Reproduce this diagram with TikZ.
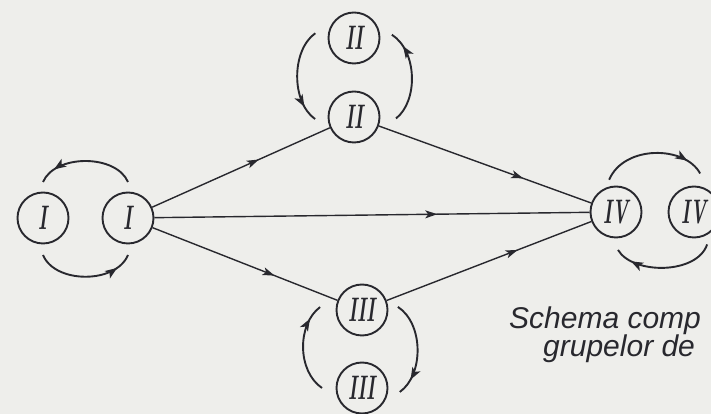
\documentclass[tikz,border=0pt]{standalone}
\usepackage{fontspec}
\usepackage{graphicx}
\setsansfont{Liberation Sans}
\usetikzlibrary{arrows.meta,decorations.markings,calc}
\definecolor{bg}{RGB}{238,238,235}
\definecolor{ink}{RGB}{40,40,46}
\tikzset{
  grp/.style={circle, draw=ink, line width=1.9pt, minimum size=51pt, inner sep=0pt,
    font=\fontsize{34}{34}\selectfont\bfseries\itshape, text=ink},
  edge/.style={draw=ink, line width=1.4pt, postaction={decorate},
    decoration={markings, mark=at position #1 with {\arrow{Stealth[length=12pt,width=8pt,inset=3pt]}}}},
  edge/.default=0.62,
  cyc/.style={draw=ink, line width=1.9pt, postaction={decorate},
    decoration={markings, mark=at position 0.83 with {\arrow{Stealth[length=12pt,width=9pt,inset=3pt]}}}},
  caption/.style={font=\fontsize{30}{26}\selectfont\sffamily\itshape, text=ink,
    anchor=base west, inner sep=0pt, align=left}
}
\newcommand{\numr}[1]{\scalebox{0.55}[1]{#1}}
\begin{document}
\begin{tikzpicture}[x=1pt,y=1pt]
\useasboundingbox (0,0) rectangle (711,414);
\fill[bg] (0,0) rectangle (711,414);
\clip (0,0) rectangle (711,414);

% group nodes
\node[grp] (I1)   at (43,196)  {\numr{I}};
\node[grp] (I2)   at (128,196) {\numr{I}};
\node[grp] (IIa)  at (354,376) {\numr{II}};
\node[grp] (IIb)  at (354,297) {\numr{II}};
\node[grp] (IIIa) at (362,104) {\numr{III}};
\node[grp] (IIIb) at (362,26)  {\numr{III}};
\node[grp] (IVa)  at (616,202) {\numr{IV}};
\node[grp] (IVb)  at (694,202) {\numr{IV}};

% main connectors
\draw[edge=0.6]  (I2) -- (IIb);
\draw[edge=0.65] (I2) -- (IVa);
\draw[edge=0.66] (I2) -- (IIIa);
\draw[edge=0.68] (IIb) -- (IVa);
\draw[edge=0.64] (IIIa) -- (IVa);

% exchange arcs
\draw[cyc] ($(I2)+(90:36)$) .. controls +(-12,28) and +(12,28) .. ($(I1)+(90:36)$);
\draw[cyc] ($(I1)+(-90:37)$) .. controls +(12,-29) and +(-12,-29) .. ($(I2)+(-90:37)$);

\draw[cyc] ($(IIa)+(173:39)$) .. controls +(-24,-17) and +(-24,17) .. ($(IIb)+(183:39)$);
\draw[cyc] ($(IIb)+(-2:42)$) .. controls +(22,17) and +(26,-17) .. ($(IIa)+(5:38)$);

\draw[cyc] ($(IIIb)+(180:40)$) .. controls +(-25,17) and +(-23,-17) .. ($(IIIa)+(176:42)$);
\draw[cyc] ($(IIIa)+(5:36)$) .. controls +(26,-17) and +(24,17) .. ($(IIIb)+(-6:38)$);

\draw[cyc] ($(IVa)+(102:33)$) .. controls +(15,35) and +(-15,28) .. ($(IVb)+(81:39)$);
\draw[cyc] ($(IVb)+(-68:35)$) .. controls +(-10,-30) and +(15,-25) .. ($(IVa)+(-87:38)$);

% caption
\node[caption] (cap) at (509,57) {Schema comp\\\hspace*{34pt}grupelor de};
\end{tikzpicture}
\end{document}
